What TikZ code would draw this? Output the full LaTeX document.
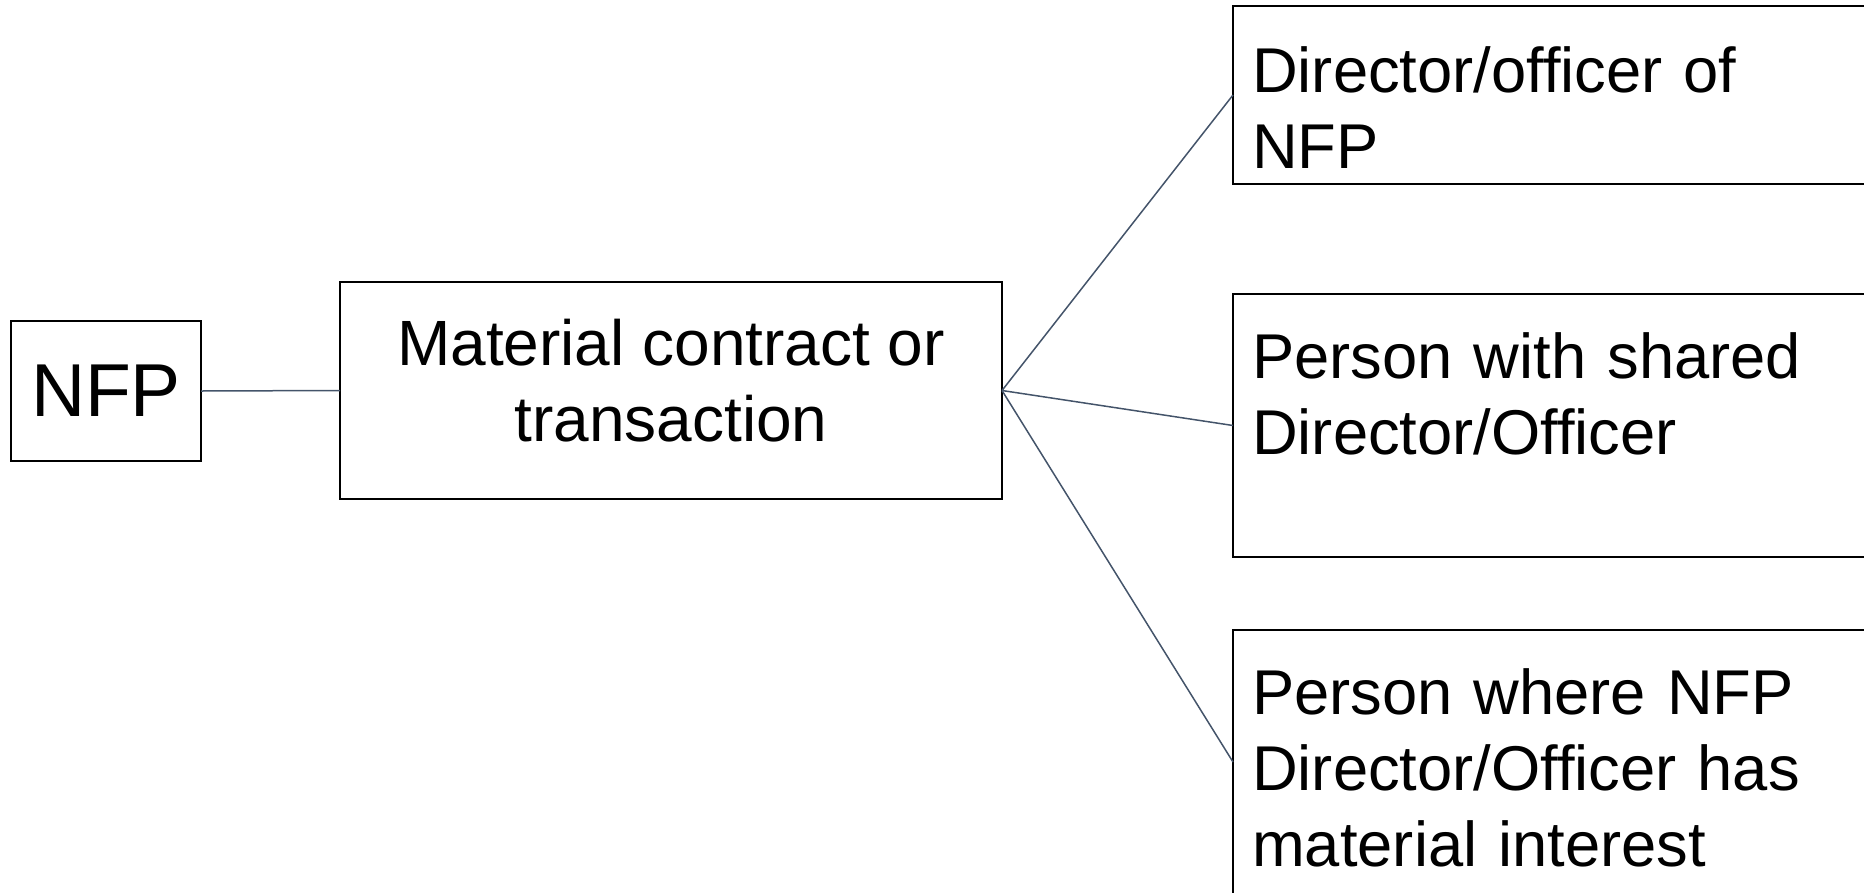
\documentclass[tikz,border=0pt]{standalone}
\usepackage{fontspec}
\setmainfont{Liberation Sans}
\usetikzlibrary{calc}
\definecolor{linkcol}{RGB}{68,84,106}
\begin{document}
\begin{tikzpicture}[x=1pt,y=-1pt,
  box/.style={draw=black, line width=2pt, fill=white, rectangle,
    inner sep=0pt, outer sep=0pt, anchor=north west},
  body/.style={font=\fontsize{64}{76}\selectfont},
  caption/.style={font=\fontsize{63.3}{76}\selectfont, anchor=base west,
    text width=600pt, align=left, inner sep=0pt},
  link/.style={draw=linkcol, line width=1.5pt}]
\useasboundingbox (0,0) rectangle (1864,892);
\clip (0,0) rectangle (1864,892);

% left-hand boxes
\node[box, minimum width=190pt, minimum height=140pt,
  font=\fontsize{75}{86}\selectfont] (nfp) at (11,321) {NFP};
\node[box, minimum width=662pt, minimum height=217pt, body,
  align=center, text depth=20pt] (deal) at (340,282) {Material contract or\\transaction};

% right-hand boxes (run off the right edge)
\node[box, minimum width=700pt, minimum height=178pt] (r1) at (1233,6) {};
\node[box, minimum width=700pt, minimum height=263pt] (r2) at (1233,294) {};
\node[box, minimum width=700pt, minimum height=264pt] (r3) at (1233,630) {};

\node[caption] (t1) at ($(r1.north west)+(19,86)$) {Director/officer of\\NFP};
\node[caption] (t2) at ($(r2.north west)+(19,84)$) {Person with shared\\Director/Officer};
\node[caption] (t3) at ($(r3.north west)+(19,84)$) {Person where NFP\\Director/Officer has\\material interest};

% connectors
\draw[link] (nfp.east) -- (deal.west);
\draw[link] (deal.east) -- (r1.west);
\draw[link] (deal.east) -- (r2.west);
\draw[link] (deal.east) -- (r3.west);
\end{tikzpicture}
\end{document}
